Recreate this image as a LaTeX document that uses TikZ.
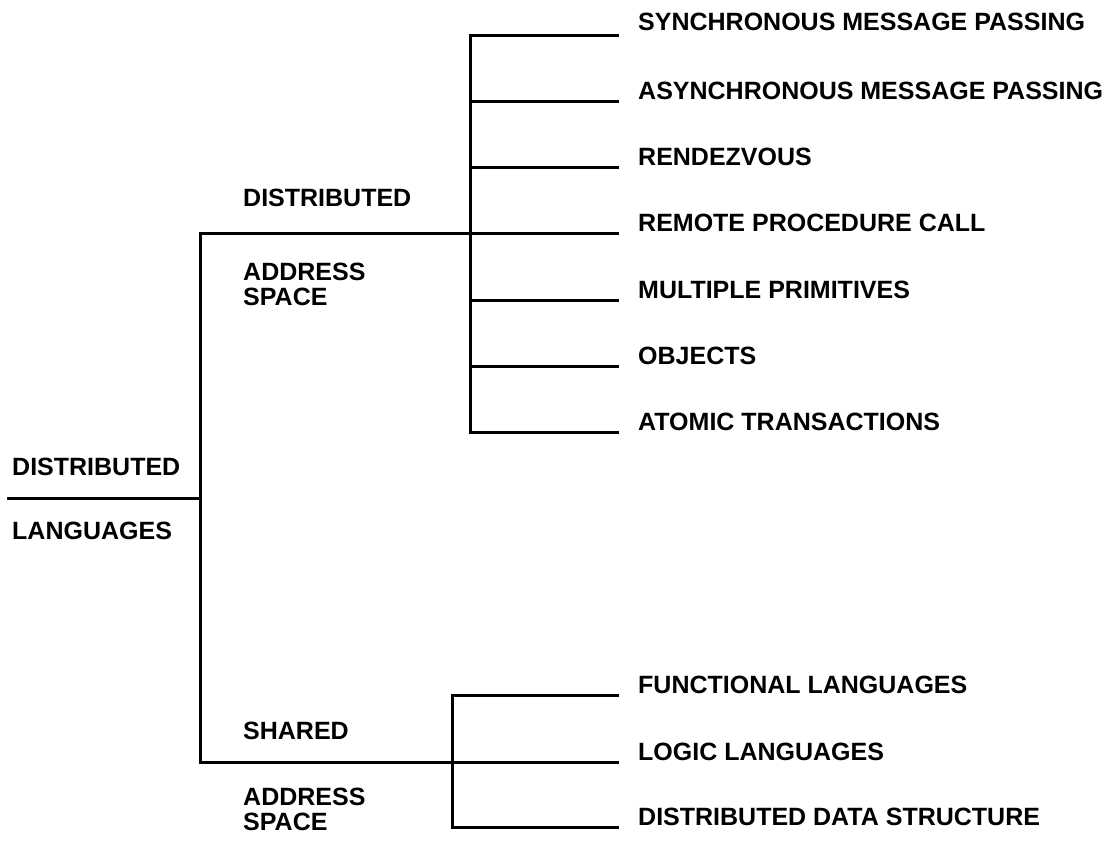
\documentclass[tikz,border=0pt]{standalone}
\usepackage{fontspec}
\setmainfont{Liberation Sans}
\begin{document}
\begin{tikzpicture}[x=1pt,y=-1pt,
  tree/.style={line width=3pt,line cap=rect},
  lab/.style={anchor=base west,inner sep=0pt,font=\fontsize{25}{26}\selectfont\bfseries},
  lab2/.style={lab,align=left}]
\useasboundingbox (0,0) rectangle (1111,845);
% junction coordinates
\coordinate (rootL) at (8,498);
\coordinate (rootJ) at (200,498);
\coordinate (rootT) at (200,234);
\coordinate (rootB) at (200,762);
\coordinate (dJ) at (470,234);
\coordinate (dT) at (470,36);
\coordinate (dB) at (470,432);
\coordinate (sJ) at (452,762);
\coordinate (sT) at (452,695);
\coordinate (sB) at (452,827);
% leaf ends
\coordinate (d1) at (617,36);
\coordinate (d2) at (617,102);
\coordinate (d3) at (617,168);
\coordinate (d4) at (617,234);
\coordinate (d5) at (617,300);
\coordinate (d6) at (617,366);
\coordinate (d7) at (617,432);
\coordinate (s1) at (617,695);
\coordinate (s2) at (617,762);
\coordinate (s3) at (617,827);
% labels
\node[lab] (rootA) at (12,475) {DISTRIBUTED};
\node[lab] (rootB2) at (12,539) {LANGUAGES};
\node[lab] (dA) at (243,207) {DISTRIBUTED};
\node[lab] (dB2) at (243,280) {ADDRESS};
\node[lab] (dC) at (243,305) {SPACE};
\node[lab] (sA) at (243,739) {SHARED};
\node[lab] (sB2) at (243,805) {ADDRESS};
\node[lab] (sC) at (243,830) {SPACE};
\node[lab] (l1) at (638,31) {SYNCHRONOUS MESSAGE PASSING};
\node[lab] (l2) at (638,100) {ASYNCHRONOUS MESSAGE PASSING};
\node[lab] (l3) at (638,166) {RENDEZVOUS};
\node[lab] (l4) at (638,232) {REMOTE PROCEDURE CALL};
\node[lab] (l5) at (638,298) {MULTIPLE PRIMITIVES};
\node[lab] (l6) at (638,364) {OBJECTS};
\node[lab] (l7) at (638,430) {ATOMIC TRANSACTIONS};
\node[lab] (m1) at (638,693) {FUNCTIONAL LANGUAGES};
\node[lab] (m2) at (638,760) {LOGIC LANGUAGES};
\node[lab] (m3) at (638,825) {DISTRIBUTED DATA STRUCTURE};
% connectors
\draw[tree] (rootL) -- (rootJ);
\draw[tree] (rootT) -- (rootB);
\draw[tree] (rootT) -- (d4);
\draw[tree] (rootB) -- (s2);
\draw[tree] (dT) -- (dB);
\draw[tree] (sT) -- (sB);
\foreach \i in {1,...,7} \draw[tree] (dJ |- d\i) -- (d\i);
\foreach \i in {1,...,3} \draw[tree] (sJ |- s\i) -- (s\i);
\end{tikzpicture}
\end{document}
